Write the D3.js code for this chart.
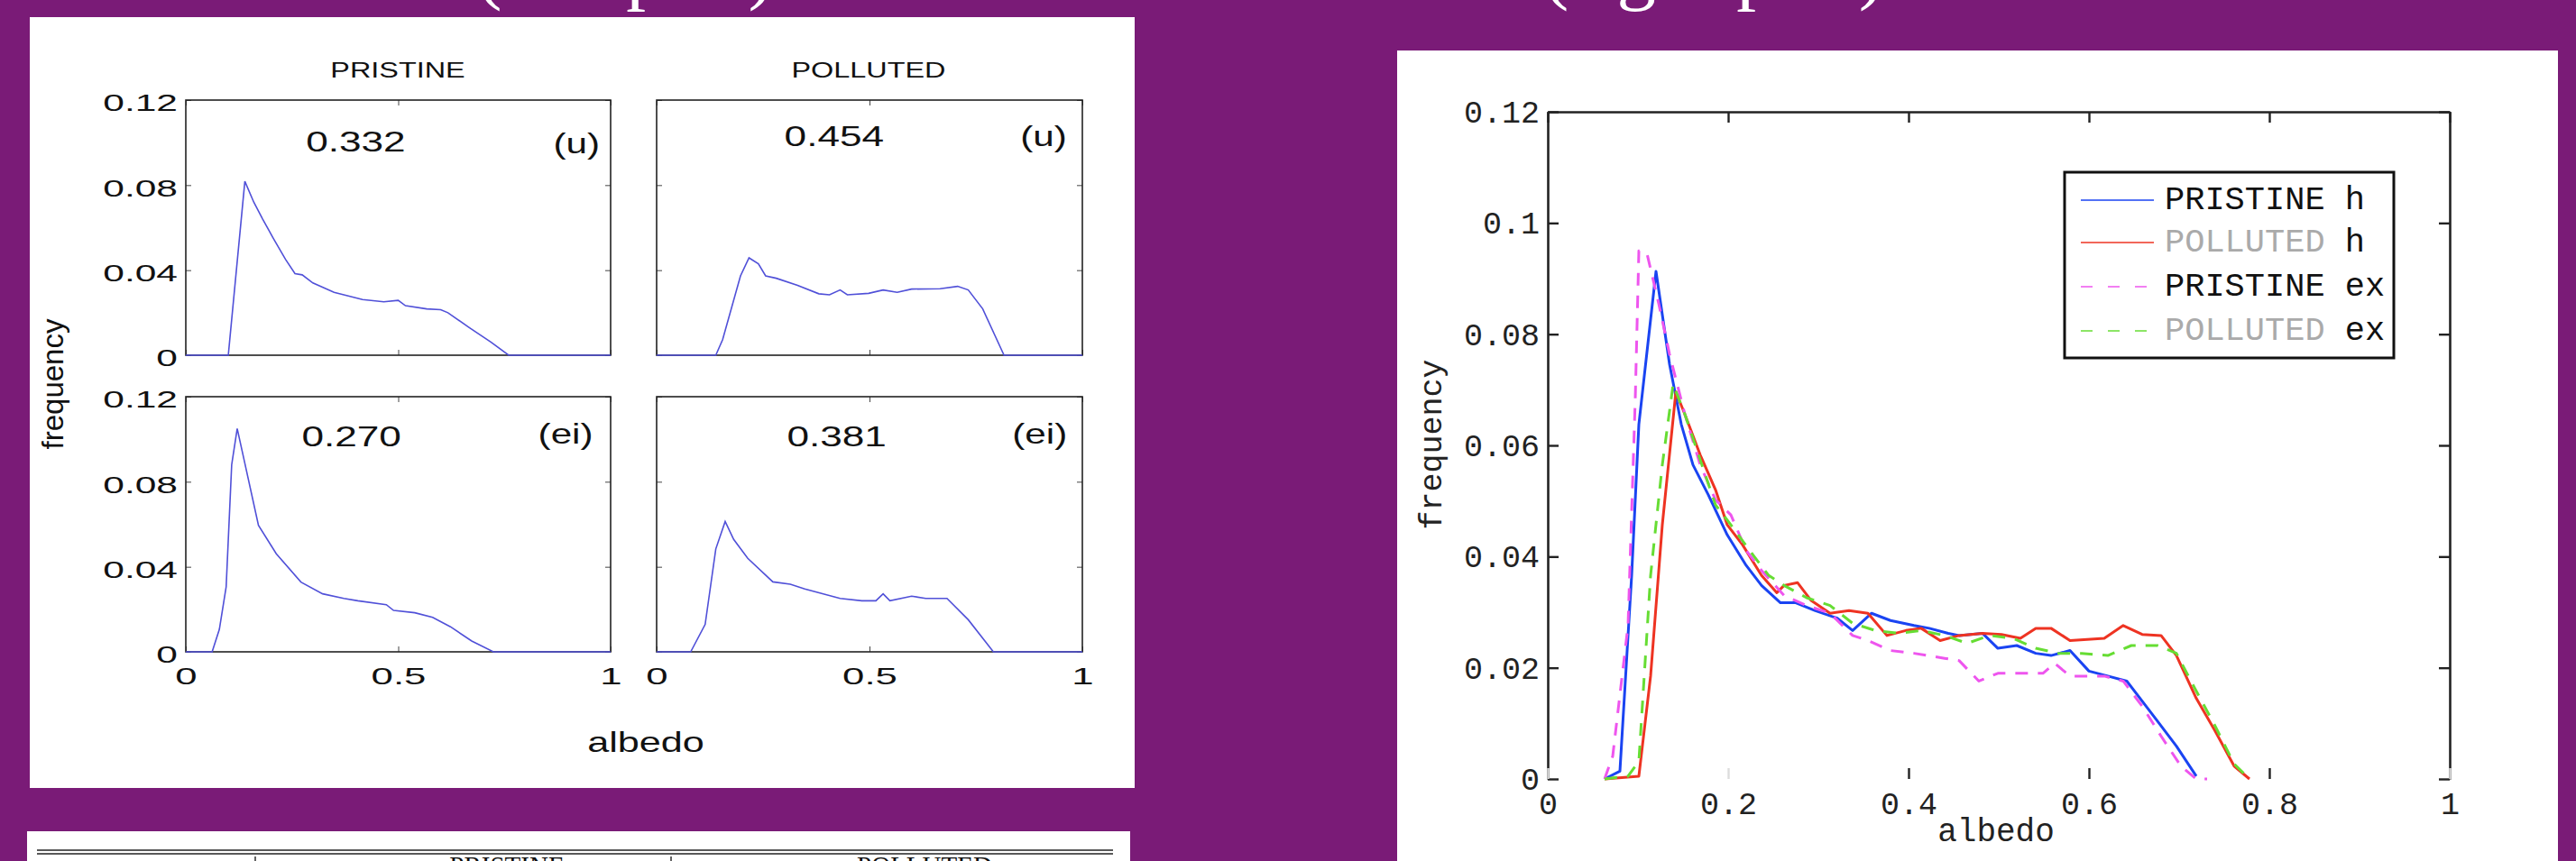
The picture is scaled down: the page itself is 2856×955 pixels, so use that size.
<!DOCTYPE html>
<html><head><meta charset="utf-8">
<script src="https://cdn.jsdelivr.net/npm/d3@7"></script>
<style>html,body{margin:0;padding:0;background:#7a1b77;overflow:hidden}svg{display:block}</style>
</head><body><svg id="c" width="2856" height="955"></svg>
<script>
// ---------- DATA ----------
const slideCaptions = ["(left plot)", "(right plot)"];
const tableHeaders = ["PRISTINE", "POLLUTED"];

// small multiples (left figure)
const columnTitles = ["PRISTINE", "POLLUTED"];
const panelMeans = ["0.332", "0.454", "0.270", "0.381"];
const panelTags = ["(u)", "(u)", "(ei)", "(ei)"];
const smallXTicks = [0, 0.5, 1];
const smallXTickLabels = ["0", "0.5", "1"];
const smallYTicks = [0, 0.04, 0.08, 0.12];
const smallYTickLabels = ["0", "0.04", "0.08", "0.12"];

const pristineU = [[0,0],[0.10,0],[0.139,0.0818],[0.160,0.072],[0.181,0.064],[0.206,0.055],[0.235,0.045],[0.257,0.0384],[0.274,0.0378],[0.299,0.034],[0.349,0.0296],[0.416,0.0262],[0.466,0.0251],[0.50,0.0258],[0.517,0.0233],[0.567,0.0218],[0.600,0.0214],[0.617,0.0200],[0.668,0.0129],[0.718,0.0062],[0.76,0],[1,0]];
const pollutedU = [[0,0],[0.139,0],[0.155,0.0073],[0.197,0.0373],[0.217,0.0458],[0.239,0.043],[0.256,0.0373],[0.281,0.0362],[0.331,0.0329],[0.381,0.0289],[0.406,0.0284],[0.431,0.0307],[0.448,0.0284],[0.498,0.0291],[0.532,0.0307],[0.565,0.0296],[0.599,0.0311],[0.666,0.0313],[0.707,0.0324],[0.732,0.0307],[0.766,0.0218],[0.816,0],[1,0]];
const pristineEI = [[0,0],[0.062,0],[0.079,0.0106],[0.095,0.0306],[0.108,0.088],[0.121,0.105],[0.137,0.0905],[0.171,0.0595],[0.213,0.0461],[0.271,0.0328],[0.322,0.0273],[0.372,0.0251],[0.405,0.024],[0.472,0.0222],[0.489,0.0195],[0.539,0.0184],[0.581,0.0162],[0.623,0.0118],[0.673,0.0051],[0.724,0],[1,0]];
const pollutedEI = [[0,0],[0.08,0],[0.114,0.0129],[0.139,0.0484],[0.161,0.0613],[0.181,0.0529],[0.214,0.044],[0.273,0.0329],[0.314,0.0318],[0.348,0.0296],[0.431,0.0251],[0.482,0.024],[0.515,0.024],[0.532,0.0273],[0.548,0.024],[0.599,0.0262],[0.632,0.0251],[0.682,0.0251],[0.732,0.0151],[0.791,0],[1,0]];

// combined chart (right figure)
const bigXTicks = [0, 0.2, 0.4, 0.6, 0.8, 1];
const bigXTickLabels = ["0", "0.2", "0.4", "0.6", "0.8", "1"];
const bigYTicks = [0, 0.02, 0.04, 0.06, 0.08, 0.1, 0.12];
const bigYTickLabels = ["0", "0.02", "0.04", "0.06", "0.08", "0.1", "0.12"];
const legendNames = ["PRISTINE h", "POLLUTED h", "PRISTINE ex", "POLLUTED ex"];

const pristineH = [[0.063,0],[0.080,0.0014],[0.093,0.0366],[0.101,0.0638],[0.120,0.0913],[0.135,0.0746],[0.148,0.0638],[0.161,0.0565],[0.178,0.0511],[0.199,0.0439],[0.220,0.0384],[0.237,0.0348],[0.258,0.0317],[0.275,0.0317],[0.296,0.0303],[0.321,0.0289],[0.338,0.0267],[0.359,0.0298],[0.380,0.0285],[0.406,0.0276],[0.423,0.0271],[0.444,0.0262],[0.456,0.0258],[0.482,0.0262],[0.499,0.0235],[0.520,0.024],[0.541,0.0226],[0.558,0.0222],[0.579,0.0231],[0.600,0.0194],[0.621,0.0185],[0.642,0.0176],[0.659,0.014],[0.676,0.0104],[0.697,0.0059],[0.719,0.0005]];
const pollutedH = [[0.063,0],[0.101,0.0005],[0.114,0.0185],[0.127,0.0457],[0.142,0.0696],[0.152,0.0656],[0.169,0.0583],[0.186,0.052],[0.199,0.0457],[0.216,0.0421],[0.237,0.0366],[0.254,0.0335],[0.262,0.0348],[0.277,0.0353],[0.292,0.0321],[0.313,0.0298],[0.334,0.0303],[0.355,0.0298],[0.376,0.0258],[0.397,0.0267],[0.414,0.0271],[0.435,0.0249],[0.456,0.0258],[0.482,0.0262],[0.503,0.026],[0.524,0.0253],[0.541,0.0271],[0.558,0.0271],[0.579,0.0249],[0.617,0.0253],[0.638,0.0276],[0.659,0.026],[0.680,0.0258],[0.697,0.0222],[0.719,0.0145],[0.740,0.0086],[0.761,0.0023],[0.778,0]];
const pristineEx = [[0.063,0],[0.072,0.0041],[0.089,0.0276],[0.097,0.0683],[0.101,0.095],[0.110,0.0945],[0.123,0.0855],[0.135,0.0764],[0.152,0.0656],[0.169,0.0565],[0.186,0.0502],[0.203,0.0475],[0.220,0.0411],[0.237,0.0375],[0.262,0.033],[0.287,0.0312],[0.313,0.0298],[0.338,0.0258],[0.355,0.0249],[0.380,0.0231],[0.406,0.0226],[0.440,0.0217],[0.456,0.0213],[0.478,0.0176],[0.499,0.019],[0.524,0.019],[0.549,0.019],[0.562,0.0208],[0.579,0.0185],[0.617,0.0185],[0.638,0.0176],[0.659,0.0131],[0.680,0.0077],[0.702,0.0023],[0.719,0],[0.731,0]];
const pollutedEx = [[0.063,0],[0.089,0.0005],[0.101,0.0032],[0.114,0.0366],[0.127,0.0565],[0.139,0.071],[0.152,0.0656],[0.169,0.0574],[0.186,0.0493],[0.203,0.0457],[0.228,0.0402],[0.245,0.0366],[0.262,0.0348],[0.287,0.0326],[0.313,0.0312],[0.338,0.028],[0.363,0.0267],[0.389,0.0262],[0.414,0.0267],[0.440,0.0258],[0.465,0.0244],[0.490,0.0258],[0.516,0.0253],[0.541,0.0235],[0.566,0.0226],[0.592,0.0226],[0.621,0.0222],[0.647,0.024],[0.676,0.024],[0.697,0.0226],[0.719,0.0158],[0.740,0.0095],[0.761,0.0027],[0.778,0]];

// ---------- DRAWING ----------
const svg = d3.select("#c");
const PURPLE = "#7a1b77";
svg.append("rect").attr("width", 2856).attr("height", 955).attr("fill", PURPLE);

// slide captions (mostly cut off at top)
const capPos = [693, 1900];
slideCaptions.forEach((t, i) => {
  svg.append("text").attr("x", capPos[i]).attr("y", -6).attr("text-anchor", "middle")
    .attr("font-family", "Liberation Serif").attr("font-size", 87).attr("fill", "#fff").text(t);
});

// ---- left figure ----
svg.append("rect").attr("x", 33).attr("y", 19).attr("width", 1225).attr("height", 855).attr("fill", "#fff");
const SANS = "Liberation Sans";
function sText(g, x, y, txt, size, sx, anchor) {
  return g.append("text").attr("transform", `translate(${x},${y}) scale(${sx},1)`)
    .attr("text-anchor", anchor).attr("dominant-baseline", "central")
    .attr("font-family", SANS).attr("font-size", size).attr("fill", "#111").text(txt);
}
const cols = [[206, 677], [728, 1200]];
const rows = [[111, 394], [440, 723]];
const smallSeries = [pristineU, pollutedU, pristineEI, pollutedEI];
const meanPos = [[0.40, 0.1005], [0.417, 0.103], [0.39, 0.1015], [0.423, 0.1015]];
const tagPos = [[0.92, 0.0997], [0.909, 0.103], [0.894, 0.1025], [0.90, 0.1025]];

smallSeries.forEach((series, k) => {
  const r = Math.floor(k / 2), c = k % 2;
  const x = d3.scaleLinear().domain([0, 1]).range(cols[c]);
  const y = d3.scaleLinear().domain([0, 0.12]).range([rows[r][1], rows[r][0]]);
  const g = svg.append("g");
  // inner ticks
  const axL = g.append("g").attr("transform", `translate(${cols[c][0]},0)`)
    .call(d3.axisLeft(y).tickValues(smallYTicks).tickSizeInner(-6).tickSizeOuter(0)
      .tickFormat((d, i) => c === 0 ? smallYTickLabels[i] : ""));
  const axR = g.append("g").attr("transform", `translate(${cols[c][1]},0)`)
    .call(d3.axisRight(y).tickValues(smallYTicks).tickSizeInner(-6).tickSizeOuter(0).tickFormat(""));
  const axB = g.append("g").attr("transform", `translate(0,${rows[r][1]})`)
    .call(d3.axisBottom(x).tickValues(smallXTicks).tickSizeInner(-6).tickSizeOuter(0)
      .tickFormat((d, i) => r === 1 ? smallXTickLabels[i] : ""));
  const axT = g.append("g").attr("transform", `translate(0,${rows[r][0]})`)
    .call(d3.axisTop(x).tickValues(smallXTicks).tickSizeInner(-6).tickSizeOuter(0).tickFormat(""));
  [axL, axR, axB, axT].forEach(a => { a.select(".domain").remove(); a.selectAll("line").attr("stroke", "#444").attr("stroke-width", 1); });
  axL.selectAll("text").attr("x", null).attr("dy", null).attr("fill", "#111")
    .attr("font-family", SANS).attr("font-size", 25).attr("text-anchor", "end").attr("dominant-baseline", "central")
    .attr("transform", "translate(-9,3) scale(1.7,1)");
  axB.selectAll("text").attr("y", null).attr("dy", null).attr("fill", "#111")
    .attr("font-family", SANS).attr("font-size", 25).attr("text-anchor", "middle").attr("dominant-baseline", "central")
    .attr("transform", "translate(0,28) scale(1.75,1)");
  g.append("rect").attr("x", cols[c][0]).attr("y", rows[r][0]).attr("width", cols[c][1] - cols[c][0])
    .attr("height", rows[r][1] - rows[r][0]).attr("fill", "none").attr("stroke", "#222").attr("stroke-width", 1.6);
  g.append("path").datum(series).attr("fill", "none").attr("stroke", "#5050d8").attr("stroke-width", 1.6)
    .attr("d", d3.line().x(d => x(d[0])).y(d => y(d[1])));
  sText(g, x(meanPos[k][0]), y(meanPos[k][1]), panelMeans[k], 32, 1.38, "middle");
  sText(g, x(tagPos[k][0]), y(tagPos[k][1]), panelTags[k], 32, 1.32, "middle");
});
const colCenters = [441, 963];
columnTitles.forEach((t, i) => sText(svg, colCenters[i], 78, t, 24, 1.35, "middle"));
sText(svg, 716, 823, "albedo", 32, 1.35, "middle");
svg.append("text").attr("transform", "translate(58,426) rotate(-90)").attr("text-anchor", "middle")
  .attr("dominant-baseline", "central").attr("font-family", SANS).attr("font-size", 33).attr("fill", "#111").text("frequency");

// ---- table strip (bottom left, cut off) ----
svg.append("rect").attr("x", 30).attr("y", 922).attr("width", 1223).attr("height", 40).attr("fill", "#fff");
[943, 947].forEach(yy => svg.append("line").attr("x1", 41).attr("x2", 1234).attr("y1", yy).attr("y2", yy)
  .attr("stroke", "#222").attr("stroke-width", 1.6));
[283, 744].forEach(xx => svg.append("line").attr("x1", xx).attr("x2", xx).attr("y1", 950).attr("y2", 960)
  .attr("stroke", "#222").attr("stroke-width", 1.4));
const thPos = [562, 1025];
tableHeaders.forEach((t, i) => svg.append("text").attr("x", thPos[i]).attr("y", 970).attr("text-anchor", "middle")
  .attr("font-family", "Liberation Serif").attr("font-size", 29).attr("fill", "#111").text(t));

// ---- right figure ----
svg.append("rect").attr("x", 1549).attr("y", 56).attr("width", 1287).attr("height", 905).attr("fill", "#fff");
const MONO = "Liberation Mono";
const bx = d3.scaleLinear().domain([0, 1]).range([1716, 2716]);
const by = d3.scaleLinear().domain([0, 0.12]).range([864, 124]);
const rg = svg.append("g");
const aL = rg.append("g").attr("transform", "translate(1716,0)")
  .call(d3.axisLeft(by).tickValues(bigYTicks).tickSizeInner(-12).tickSizeOuter(0).tickPadding(9)
    .tickFormat((d, i) => bigYTickLabels[i]));
const aR = rg.append("g").attr("transform", "translate(2716,0)")
  .call(d3.axisRight(by).tickValues(bigYTicks).tickSizeInner(-12).tickSizeOuter(0).tickFormat(""));
const aT = rg.append("g").attr("transform", "translate(0,124)")
  .call(d3.axisTop(bx).tickValues(bigXTicks).tickSizeInner(-12).tickSizeOuter(0).tickFormat(""));
const aB = rg.append("g").attr("transform", "translate(0,864)")
  .call(d3.axisBottom(bx).tickValues(bigXTicks).tickSizeInner(-12).tickSizeOuter(0)
    .tickFormat((d, i) => bigXTickLabels[i]));
aB.select(".domain").remove();
[aL, aR, aT].forEach(a => a.select(".domain").attr("stroke", "#222").attr("stroke-width", 2.6));
[aL, aR, aT, aB].forEach(a => a.selectAll("line").attr("stroke", "#222").attr("stroke-width", 2.4));
aB.selectAll(".tick").filter(d => d === 0.2 || d === 0 || d === 1).select("line").attr("stroke", "#ddd");
aL.selectAll("text").attr("font-family", MONO).attr("font-size", 35).attr("fill", "#222").attr("dy", "0.33em");
aB.selectAll("text").attr("font-family", MONO).attr("font-size", 35).attr("fill", "#222").attr("y", 27).attr("dy", "0.33em");

const bigSeries = [pristineH, pollutedH, pristineEx, pollutedEx];
const bigColors = ["#1a44f2", "#ee3322", "#ee55ee", "#66dd33"];
const bigDash = [null, null, "14,11", "14,11"];
const bline = d3.line().x(d => bx(d[0])).y(d => by(d[1]));
bigSeries.forEach((s, i) => {
  rg.append("path").datum(s).attr("fill", "none").attr("stroke", bigColors[i]).attr("stroke-width", 3)
    .attr("stroke-dasharray", bigDash[i]).attr("stroke-linejoin", "round").attr("d", bline);
});
svg.append("text").attr("x", 2213).attr("y", 923).attr("text-anchor", "middle").attr("dominant-baseline", "central")
  .attr("font-family", MONO).attr("font-size", 36).attr("fill", "#222").text("albedo");
svg.append("text").attr("transform", "translate(1589,493) rotate(-90)").attr("text-anchor", "middle")
  .attr("dominant-baseline", "central").attr("font-family", MONO).attr("font-size", 35).attr("fill", "#222").text("frequency");

// legend
const lg = svg.append("g");
lg.append("rect").attr("x", 2289).attr("y", 191).attr("width", 365).attr("height", 206)
  .attr("fill", "#fff").attr("stroke", "#111").attr("stroke-width", 3);
const legY = [222, 269, 318, 367];
legendNames.forEach((n, i) => {
  lg.append("line").attr("x1", 2307).attr("x2", 2388).attr("y1", legY[i]).attr("y2", legY[i])
    .attr("stroke", bigColors[i]).attr("stroke-width", 2.2).attr("opacity", 0.75)
    .attr("stroke-dasharray", bigDash[i] ? "13,17" : null);
  const parts = n.split(" ");
  const t = lg.append("text").attr("x", 2400).attr("y", legY[i]).attr("dominant-baseline", "central")
    .attr("font-family", MONO).attr("font-size", 37).attr("fill", "#111");
  t.append("tspan").attr("fill", i % 2 === 1 ? "#aaa" : "#111").text(parts[0]);
  t.append("tspan").attr("fill", "#111").text(" " + parts[1]);
});
</script></body></html>
